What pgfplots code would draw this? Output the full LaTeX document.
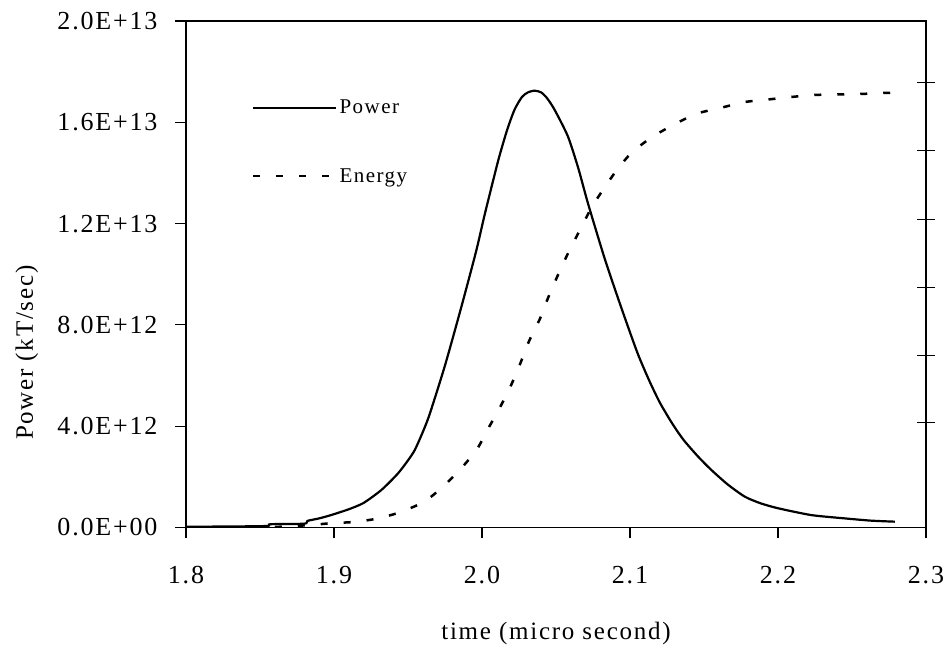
\documentclass[border=0pt]{standalone}
\usepackage{fontspec}
\setmainfont{Liberation Serif}[LetterSpace=7]
\usepackage{pgfplots}
\pgfplotsset{compat=1.18}
\begin{document}
\begin{tikzpicture}
\useasboundingbox (-186pt,-119.5pt) rectangle (760pt,527.5pt);
\begin{axis}[
  scale only axis, width=740pt, height=506.5pt,
  xmin=1.8, xmax=2.3, ymin=0, ymax=20,
  xtick={1.8,1.9,2.0,2.1,2.2,2.3},
  xticklabels={1.8,1.9,2.0,2.1,2.2,2.3},
  ytick={0,4,8,12,16,20},
  yticklabels={0.0E+00,4.0E+12,8.0E+12,1.2E+13,1.6E+13,2.0E+13},
  xtick pos=bottom, ytick pos=left,
  tick align=outside, major tick length=11pt,
  axis line style={line width=1.2pt},
  tick style={line width=1.2pt, black},
  tick label style={font=\fontsize{26}{30}\selectfont},
  xticklabel style={yshift=-24pt},
  yticklabel style={xshift=-14pt},
  /pgf/number format/assume math mode=true,
  xlabel={time (micro second)},
  ylabel={Power (kT/sec)},
  label style={font=\fontsize{25}{29}\selectfont},
  xlabel style={at={(axis description cs:0.5,-0.2083)}, anchor=center},
  ylabel style={at={(axis description cs:-0.2149,0.345)}, anchor=center},
  legend cell align=left,
  legend style={at={(axis description cs:0.085,0.852)}, anchor=north west, draw=none, fill=none,
    font=\fontsize{21}{25}\selectfont, row sep=49pt,
    /tikz/every even column/.append style={column sep=0pt}},
  legend image code/.code={\draw[#1] (0pt,0pt) -- (83pt,0pt);},
]
\addplot[black, line width=2.2pt, line join=round, smooth, tension=0.4] coordinates {
(1.800,0.03) (1.830,0.04) (1.855,0.06) (1.857,0.13) (1.880,0.15) (1.882,0.26)
(1.890,0.36) (1.898,0.49) (1.910,0.72) (1.920,0.97) (1.932,1.48) (1.943,2.12)
(1.950,2.65) (1.9545,3.05) (1.9595,3.7) (1.9645,4.45) (1.975,6.4) (1.986,8.7) (1.996,10.9) (2.002,12.4)
(2.011,14.5) (2.017,15.7) (2.022,16.5) (2.027,17.0) (2.031,17.18) (2.0356,17.25) (2.040,17.18) (2.044,16.95) (2.049,16.5)
(2.058,15.45) (2.065,14.2) (2.0716,12.8) (2.083,10.6) (2.094,8.7) (2.105,6.9) (2.113,5.8)
(2.120,4.95) (2.127,4.25) (2.132,3.8) (2.137,3.4) (2.146,2.8) (2.155,2.27) (2.166,1.7) (2.1775,1.22) (2.188,0.96) (2.200,0.76)
(2.2225,0.49) (2.245,0.36) (2.263,0.27) (2.279,0.23)
};
\addlegendentry{Power}
\addplot[black, line width=2.5pt, dash pattern=on 7pt off 16pt, smooth, tension=0.4] coordinates {
(1.860,0.02) (1.870,0.05) (1.885,0.10) (1.898,0.17) (1.914,0.22) (1.930,0.36)
(1.9455,0.62) (1.961,1.02) (1.9736,1.61) (1.986,2.34) (1.9966,3.09) (2.0047,3.96)
(2.0124,4.77) (2.0195,5.6) (2.0255,6.42) (2.0318,7.36) (2.039,8.22) (2.0446,9.06)
(2.0514,9.98) (2.0583,10.85) (2.066,11.73) (2.0739,12.62) (2.0818,13.34) (2.0908,14.09)
(2.1009,14.79) (2.1149,15.42) (2.1297,15.91) (2.145,16.34) (2.1613,16.57) (2.1775,16.8)
(2.1932,16.9) (2.209,17.0) (2.2248,17.08) (2.2405,17.1) (2.2563,17.12) (2.2725,17.16)
(2.280,17.17)
};
\addlegendentry{Energy}
\end{axis}
\begin{axis}[
  scale only axis, width=740pt, height=506.5pt,
  xmin=1.8, xmax=2.3, ymin=0, ymax=20,
  axis x line=none, axis y line*=right,
  ytick={4.13,6.78,9.47,12.15,14.88,17.57},
  yticklabels={},
  ytick align=center, major tick length=18pt,
  axis line style={line width=1.2pt, -},
  tick style={line width=1pt, black},
]
\end{axis}
\end{tikzpicture}
\end{document}
